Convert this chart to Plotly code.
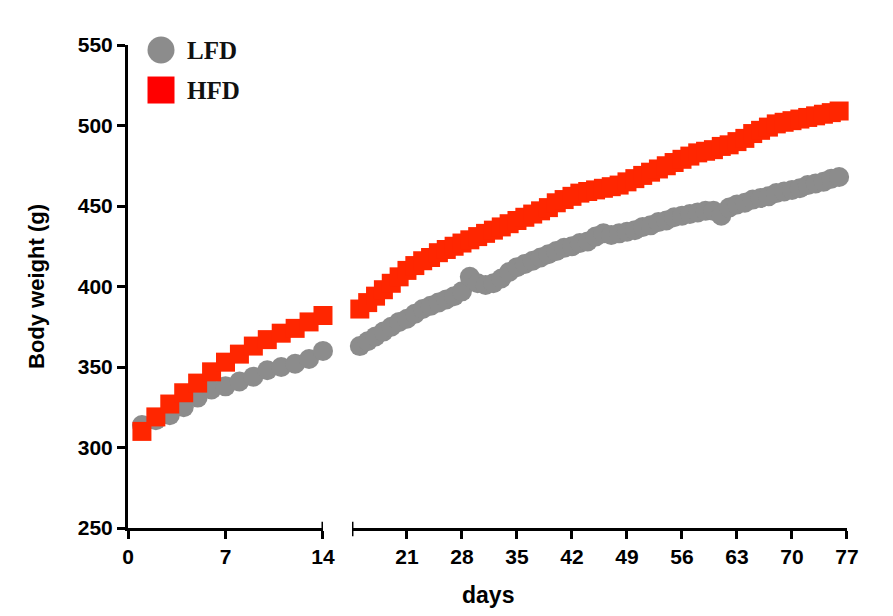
import plotly.graph_objects as go

# ---- data ----
days_seg1 = list(range(1, 15))
lfd_seg1 = [314, 317, 320, 325, 331, 336, 338, 341, 344, 348, 350, 352, 355, 360]
hfd_seg1 = [310, 319, 327, 334, 340, 347, 353, 358, 363, 367, 371, 374, 378, 382]

days_seg2 = list(range(15, 77))
lfd_seg2 = [363, 366, 369, 372, 375, 378, 380, 383, 386, 388, 390, 392, 394, 397,
            406, 402, 401, 402, 405, 409, 412, 414, 416, 418, 420, 422, 424, 425,
            427, 428, 431, 433, 432, 433, 434, 435, 437, 438, 440, 441, 443, 444,
            445, 446, 447, 447, 444, 449, 451, 452, 454, 455, 456, 458, 459, 460,
            461, 463, 464, 465, 467, 468]
hfd_seg2 = [386, 390, 394, 398, 402, 406, 410, 413, 416, 418, 421, 423, 425, 427,
            429, 431, 433, 435, 437, 439, 441, 443, 445, 447, 449, 452, 454, 456,
            458, 459, 460, 461, 462, 463, 465, 467, 469, 471, 473, 475, 477, 479,
            481, 483, 484, 485, 487, 488, 490, 492, 495, 497, 499, 501, 502, 503,
            504, 505, 506, 507, 508, 509]

x_ticks_seg1 = [0, 7, 14]
x_ticks_seg2 = [21, 28, 35, 42, 49, 56, 63, 70, 77]
y_ticks = [250, 300, 350, 400, 450, 500, 550]
series_names = ["LFD", "HFD"]

GREY = "#8c8c8c"
RED = "#ff2600"

fig = go.Figure()
mk_l = dict(symbol="circle", size=20, color=GREY, line=dict(width=0))
mk_h = dict(symbol="square", size=19, color=RED, line=dict(width=0))

fig.add_trace(go.Scatter(x=days_seg1, y=lfd_seg1, mode="markers", marker=mk_l,
                         name=series_names[0], xaxis="x", yaxis="y", cliponaxis=False, showlegend=False))
fig.add_trace(go.Scatter(x=days_seg2, y=lfd_seg2, mode="markers", marker=mk_l,
                         name=series_names[0], xaxis="x2", yaxis="y", cliponaxis=False, showlegend=False))
fig.add_trace(go.Scatter(x=days_seg1, y=hfd_seg1, mode="markers", marker=mk_h,
                         name=series_names[1], xaxis="x", yaxis="y", cliponaxis=False, showlegend=False))
fig.add_trace(go.Scatter(x=days_seg2, y=hfd_seg2, mode="markers", marker=mk_h,
                         name=series_names[1], xaxis="x2", yaxis="y", cliponaxis=False, showlegend=False))

tickfont = dict(family="Liberation Sans, Arial, sans-serif", size=21, color="black", weight="bold")
axis_common = dict(showline=True, linecolor="black", linewidth=3, ticks="outside",
                   ticklen=8, tickwidth=3, tickcolor="black", showgrid=False,
                   zeroline=False, tickfont=tickfont, fixedrange=True)

fig.update_layout(
    width=893, height=616,
    margin=dict(l=128, r=46, t=45, b=88, autoexpand=False),
    paper_bgcolor="white", plot_bgcolor="white",
    showlegend=False,
    xaxis=dict(domain=[0, 0.2712], range=[0, 14], tickvals=x_ticks_seg1,
               anchor="y", **axis_common),
    xaxis2=dict(domain=[0.3115, 1], range=[14, 77], tickvals=x_ticks_seg2,
                anchor="y", **axis_common),
    yaxis=dict(range=[250, 550], tickvals=y_ticks, anchor="x",
               title=dict(text="Body weight (g)", standoff=28,
                          font=dict(family="Liberation Sans, Arial, sans-serif", size=22,
                                    color="black", weight="bold")),
               **axis_common),
)

# x-axis title centred under the whole broken axis
fig.add_annotation(text="days", xref="paper", yref="paper", x=0.5, y=-0.108,
                   showarrow=False, yanchor="top",
                   font=dict(family="Liberation Sans, Arial, sans-serif", size=23,
                             color="black", weight="bold"))

# end caps at the axis break
for xr in ["x", "x2"]:
    fig.add_shape(type="line", xref=xr, yref="paper", x0=14, x1=14, y0=-0.017, y1=0.013,
                  line=dict(color="black", width=3))

# manual legend
leg_x = 0.0459
fig.add_shape(type="circle", xref="paper", yref="paper", xsizemode="pixel", ysizemode="pixel",
              xanchor=leg_x, yanchor=0.9896, x0=-13.5, x1=13.5, y0=-13.5, y1=13.5,
              fillcolor=GREY, line=dict(width=0))
fig.add_shape(type="rect", xref="paper", yref="paper", xsizemode="pixel", ysizemode="pixel",
              xanchor=leg_x, yanchor=0.9068, x0=-13.5, x1=13.5, y0=-13.5, y1=13.5,
              fillcolor="#ff0000", line=dict(width=0))
for nm, yy in zip(series_names, [0.9896, 0.9068]):
    fig.add_annotation(text=nm, xref="paper", yref="paper", x=0.0793, y=yy,
                       xanchor="left", yanchor="middle", showarrow=False,
                       font=dict(family="Liberation Serif, serif", size=25, color="#111111",
                                 weight="bold"))

fig.write_html("out.html", config={"displayModeBar": False},
               post_script="document.body.style.margin='0';document.body.style.padding='0';")
